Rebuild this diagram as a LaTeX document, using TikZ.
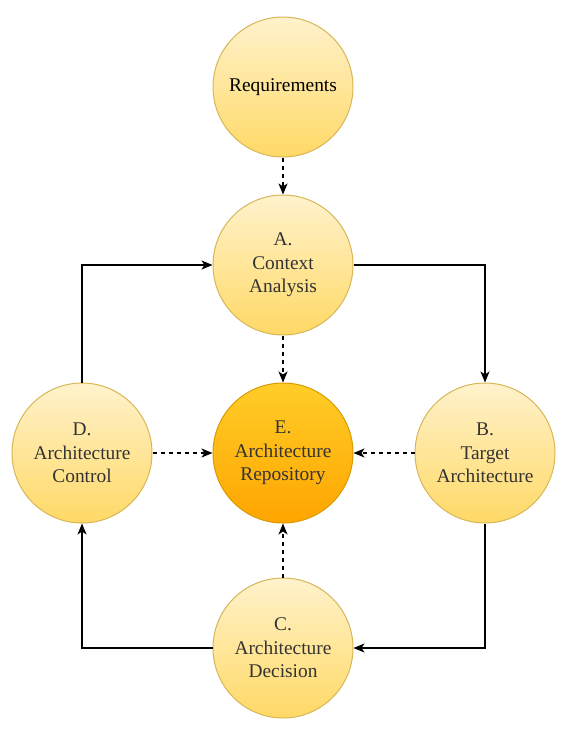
\documentclass[tikz,border=0pt]{standalone}
\usepackage{fontspec}
\setmainfont{Liberation Serif}
\usepackage{tikz}
\usetikzlibrary{arrows.meta}

\definecolor{phasefill}{HTML}{FFF2CC}
\definecolor{phaseshade}{HTML}{FFD966}
\definecolor{phaseline}{HTML}{D6B656}
\definecolor{repofill}{HTML}{FFCD28}
\definecolor{reposhade}{HTML}{FFA500}
\definecolor{repoline}{HTML}{D79B00}
\definecolor{labeltext}{HTML}{333333}

\tikzset{
  phase/.style={circle,draw=phaseline,line width=1pt,top color=phasefill,bottom color=phaseshade,
    minimum size=140pt,inner sep=0pt,align=center,text=labeltext,font=\fontsize{19.4}{23.5}\selectfont},
  repo/.style={phase,draw=repoline,top color=repofill,bottom color=reposhade},
  flow/.style={->,line width=1.2pt},
  feed/.style={->,line width=1.2pt,dash pattern=on 4pt off 4pt}
}

\begin{document}
\begin{tikzpicture}[>={Stealth[length=11pt,width=9pt,inset=3pt]},x=1pt,y=-1pt]
\useasboundingbox (0,0) rectangle (571,737);
\node[phase,text=black] (req) at (283,87) {Requirements};
\node[phase] (ctx) at (283,265) {A.\\Context\\Analysis};
\node[repo] (rep) at (283,453) {E.\\Architecture\\Repository};
\node[phase] (ctl) at (82,453) {D.\\Architecture\\Control};
\node[phase] (tgt) at (485,453) {B.\\Target\\Architecture};
\node[phase] (dec) at (283,648) {C.\\Architecture\\Decision};
% dashed feeds
\draw[feed] (req) -- (ctx);
\draw[feed] (ctx) -- (rep);
\draw[feed] (ctl) -- (rep);
\draw[feed] (tgt) -- (rep);
\draw[feed] (dec) -- (rep);
% the cycle
\draw[flow] (ctx.east) -| (tgt.north);
\draw[flow] (tgt.south) |- (dec.east);
\draw[flow] (dec.west) -| (ctl.south);
\draw[flow] (ctl.north) |- (ctx.west);
\end{tikzpicture}
\end{document}
